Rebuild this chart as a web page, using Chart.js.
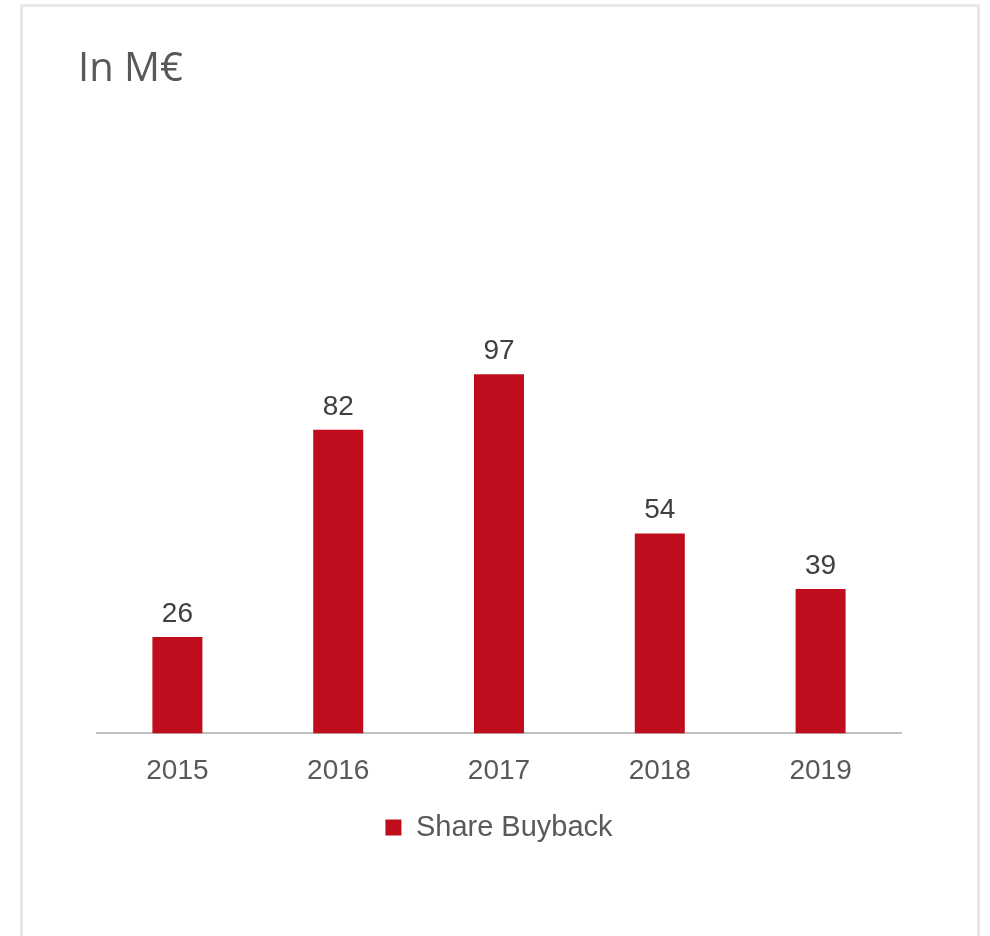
<!DOCTYPE html>
<html>
<head>
<meta charset="utf-8">
<script src="https://cdn.jsdelivr.net/npm/chart.js@4"></script>
<style>
  html, body { margin: 0; padding: 0; background: #ffffff; overflow: hidden; }
  #frame {
    position: absolute; left: 20px; top: 4px;
    width: 954px; height: 1000px;
    border: 3px solid #e8e8e8;
  }
  #wrap { position: absolute; left: 0; top: 0; width: 990px; height: 936px; }
</style>
</head>
<body>
<div id="frame"></div>
<div id="wrap"><canvas id="chart" width="990" height="936"></canvas></div>
<script>
// Share buyback amounts per year, in millions of euros
const years = ['2015', '2016', '2017', '2018', '2019'];
const buyback = [26, 82, 97, 54, 39];
const seriesName = 'Share Buyback';
const titleText = 'In M€';

const barRed = '#C00D1E';
const labelGrey = '#595959';
const valueGrey = '#404040';

// Writes each bar's value just above it
const valueLabels = {
  id: 'valueLabels',
  afterDatasetsDraw(chart) {
    const ctx = chart.ctx;
    const meta = chart.getDatasetMeta(0);
    ctx.save();
    ctx.font = '28px "Liberation Sans", Arial, sans-serif';
    ctx.fillStyle = valueGrey;
    ctx.textAlign = 'center';
    ctx.textBaseline = 'alphabetic';
    meta.data.forEach((bar, i) => {
      ctx.fillText(String(chart.data.datasets[0].data[i]), bar.x, bar.y - 15);
    });
    ctx.restore();
  }
};

new Chart(document.getElementById('chart'), {
  type: 'bar',
  data: {
    labels: years,
    datasets: [{
      label: seriesName,
      data: buyback,
      backgroundColor: barRed,
      borderWidth: 0,
      categoryPercentage: 1,
      barPercentage: 0.311
    }]
  },
  options: {
    responsive: false,
    animation: false,
    layout: { padding: { left: 78, right: 89, top: 0, bottom: 84 } },
    scales: {
      x: {
        grid: { display: false, drawTicks: false },
        border: { display: true, color: '#bfbfbf', width: 2 },
        ticks: {
          color: labelGrey,
          padding: 21,
          font: { family: '"Liberation Sans", Arial, sans-serif', size: 28 }
        }
      },
      y: {
        min: 0,
        max: 120,
        grid: { display: false, drawTicks: false },
        border: { display: false },
        ticks: { display: false },
        afterFit(scale) { scale.width = 19; }
      }
    },
    plugins: {
      title: {
        display: true,
        text: titleText,
        align: 'start',
        color: labelGrey,
        font: { family: '"Open Sans", sans-serif', size: 40, weight: 'normal' },
        padding: { top: 46, bottom: 195 }
      },
      legend: {
        position: 'bottom',
        fullSize: false,
        labels: {
          color: labelGrey,
          boxWidth: 16,
          boxHeight: 16,
          padding: 4,
          font: { family: '"Liberation Sans", Arial, sans-serif', size: 29 }
        }
      },
      tooltip: { enabled: false }
    }
  },
  plugins: [valueLabels]
});
</script>
</body>
</html>
